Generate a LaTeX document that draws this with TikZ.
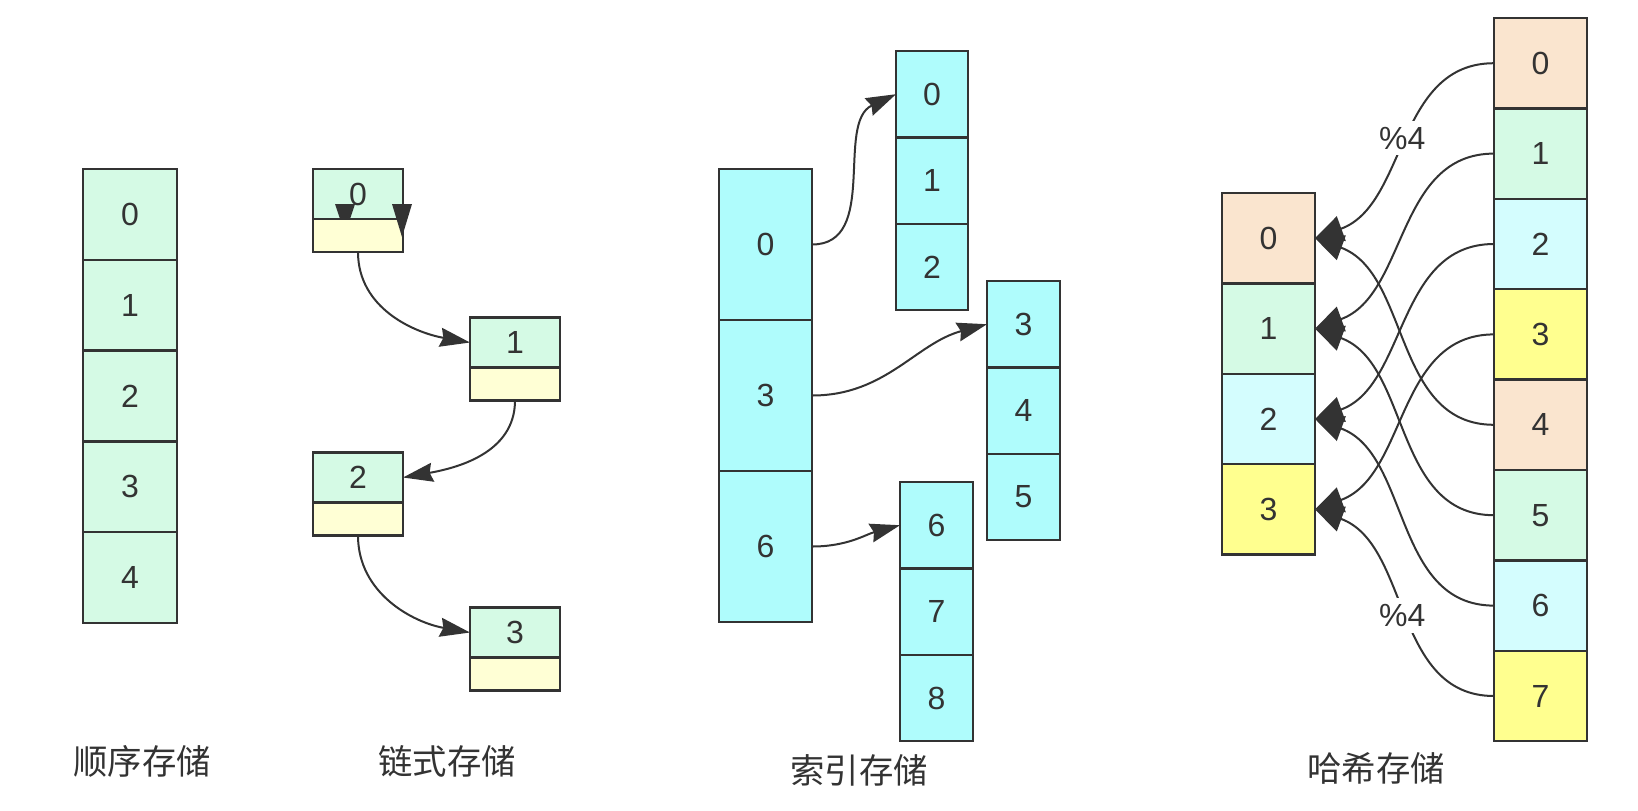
\documentclass[tikz,border=0pt]{standalone}
\usepackage{fontspec}
\setmainfont{Liberation Sans}
\newfontfamily\cjkfont{Noto Sans CJK SC}
\usepackage{tikz}
\usepackage{xcolor}
\usetikzlibrary{arrows.meta,positioning,calc}
\newcommand{\cellfont}{\fontsize{16}{19}\selectfont}
\newcommand{\capfont}{\cjkfont\fontsize{17.2}{20}\selectfont}
\definecolor{dsink}{HTML}{333333}
\definecolor{dsmint}{HTML}{D5FAE5}
\definecolor{dscream}{HTML}{FFFFD5}
\definecolor{dscyan}{HTML}{AFFCFC}
\definecolor{dspeach}{HTML}{FAE5CF}
\definecolor{dsice}{HTML}{D4FDFE}
\definecolor{dslemon}{HTML}{FFFF8F}
\tikzset{
  baseCell/.style={draw=dsink, line width=1.2pt, outer sep=0pt, inner sep=0pt, text=dsink, font=\cellfont},
  seqCell/.style={baseCell, fill=dsmint, minimum width=47pt, minimum height=45.4pt},
  dataCell/.style={baseCell, fill=dsmint, minimum width=45pt, minimum height=25pt},
  nextCell/.style={baseCell, fill=dscream, minimum width=45pt, minimum height=16.5pt},
  indexCell/.style={baseCell, fill=dscyan, minimum width=46.5pt, minimum height=75.5pt},
  blockCell/.style={baseCell, fill=dscyan, minimum width=36.5pt, minimum height=43.2pt},
  keyCell/.style={baseCell, minimum width=46.5pt, minimum height=45.2pt},
  linkArrow/.style={-{Stealth[length=15pt, width=9.5pt, inset=1.5pt]}, line width=1pt, draw=dsink},
  hashArrow/.style={-{Stealth[length=14pt, width=13pt, inset=0pt]}, line width=1pt, draw=dsink},
  capLabel/.style={text=dsink, font=\capfont},
  modLabel/.style={fill=white, text=dsink, font=\cellfont, inner sep=3pt}
}
\begin{document}
\begin{tikzpicture}[x=0.5pt, y=-0.5pt, node distance=0pt]
  \useasboundingbox (0,0) rectangle (1638,810);

  \node[seqCell] (sq0) at (130,214.4) {0};
  \node[seqCell, below=of sq0] (sq1) {1};
  \node[seqCell, below=of sq1] (sq2) {2};
  \node[seqCell, below=of sq2] (sq3) {3};
  \node[seqCell, below=of sq3] (sq4) {4};
  \node[capLabel] (sqcap) at (142,761) {顺序存储};

  \node[dataCell] (ln0) at (358,194) {0};
  \fill[dsink] ($(ln0.south)+(-23,-15)$) -- ($(ln0.south)+(-3,-15)$) -- ($(ln0.south)+(-13,15)$) -- cycle;
  \node[nextCell, below=of ln0] (lp0) {};
  \fill[dsink] ($(ln0.south east)+(-11,-15)$) -- ($(ln0.south east)+(9,-15)$) -- ($(ln0.south east)+(-1,18)$) -- cycle;
  \node[dataCell] (ln1) at (515,342.5) {1};
  \node[nextCell, below=of ln1] (lp1) {};
  \node[dataCell] (ln2) at (358,477.5) {2};
  \node[nextCell, below=of ln2] (lp2) {};
  \node[dataCell] (ln3) at (515,632.5) {3};
  \node[nextCell, below=of ln3] (lp3) {};
  \node[capLabel] (lncap) at (447,761) {链式存储};

  \draw[linkArrow] (lp0.south) to[out=-90, in=170] (ln1.west);
  \draw[linkArrow] (lp1.south) to[out=-90, in=10] (ln2.east);
  \draw[linkArrow] (lp2.south) to[out=-90, in=170] (ln3.west);

  \node[indexCell] (ix0) at (765.5,244.5) {0};
  \node[indexCell, below=of ix0] (ix3) {3};
  \node[indexCell, below=of ix3] (ix6) {6};
  \node[blockCell, minimum width=36pt] (bk0) at (932,94.2) {0};
  \node[blockCell, minimum width=36pt, below=of bk0] (bk1) {1};
  \node[blockCell, minimum width=36pt, below=of bk1] (bk2) {2};
  \node[blockCell] (bk3) at (1023.5,324.2) {3};
  \node[blockCell, below=of bk3] (bk4) {4};
  \node[blockCell, below=of bk4] (bk5) {5};
  \node[blockCell] (bk6) at (936.5,525.2) {6};
  \node[blockCell, below=of bk6] (bk7) {7};
  \node[blockCell, below=of bk7] (bk8) {8};
  \node[capLabel] (ixcap) at (859,770) {索引存储};

  \draw[linkArrow] (ix0.east) to[out=0, in=205] (bk0.west);
  \draw[linkArrow] (ix3.east) to[out=0, in=195] (bk3.west);
  \draw[linkArrow] (ix6.east) to[out=0, in=195] (bk6.west);

  \node[keyCell, fill=dspeach] (k0) at (1540.5,63.2) {0};
  \node[keyCell, fill=dsmint, below=of k0] (k1) {1};
  \node[keyCell, fill=dsice, below=of k1] (k2) {2};
  \node[keyCell, fill=dslemon, below=of k2] (k3) {3};
  \node[keyCell, fill=dspeach, below=of k3] (k4) {4};
  \node[keyCell, fill=dsmint, below=of k4] (k5) {5};
  \node[keyCell, fill=dsice, below=of k5] (k6) {6};
  \node[keyCell, fill=dslemon, below=of k6] (k7) {7};
  \node[keyCell, fill=dspeach] (hb0) at (1268.5,238.2) {0};
  \node[keyCell, fill=dsmint, below=of hb0] (hb1) {1};
  \node[keyCell, fill=dsice, below=of hb1] (hb2) {2};
  \node[keyCell, fill=dslemon, below=of hb2] (hb3) {3};
  \node[capLabel] (hbcap) at (1376,768) {哈希存储};

  \draw[hashArrow] (k0.west) to[out=180, in=20] node[modLabel] {\%4} (hb0.east);
  \draw[hashArrow] (k1.west) to[out=180, in=20] (hb1.east);
  \draw[hashArrow] (k2.west) to[out=180, in=20] (hb2.east);
  \draw[hashArrow] (k3.west) to[out=180, in=20] (hb3.east);
  \draw[hashArrow] (k4.west) to[out=180, in=-20] (hb0.east);
  \draw[hashArrow] (k5.west) to[out=180, in=-20] (hb1.east);
  \draw[hashArrow] (k6.west) to[out=180, in=-20] (hb2.east);
  \draw[hashArrow] (k7.west) to[out=180, in=-20] node[modLabel] {\%4} (hb3.east);
\end{tikzpicture}
\end{document}
